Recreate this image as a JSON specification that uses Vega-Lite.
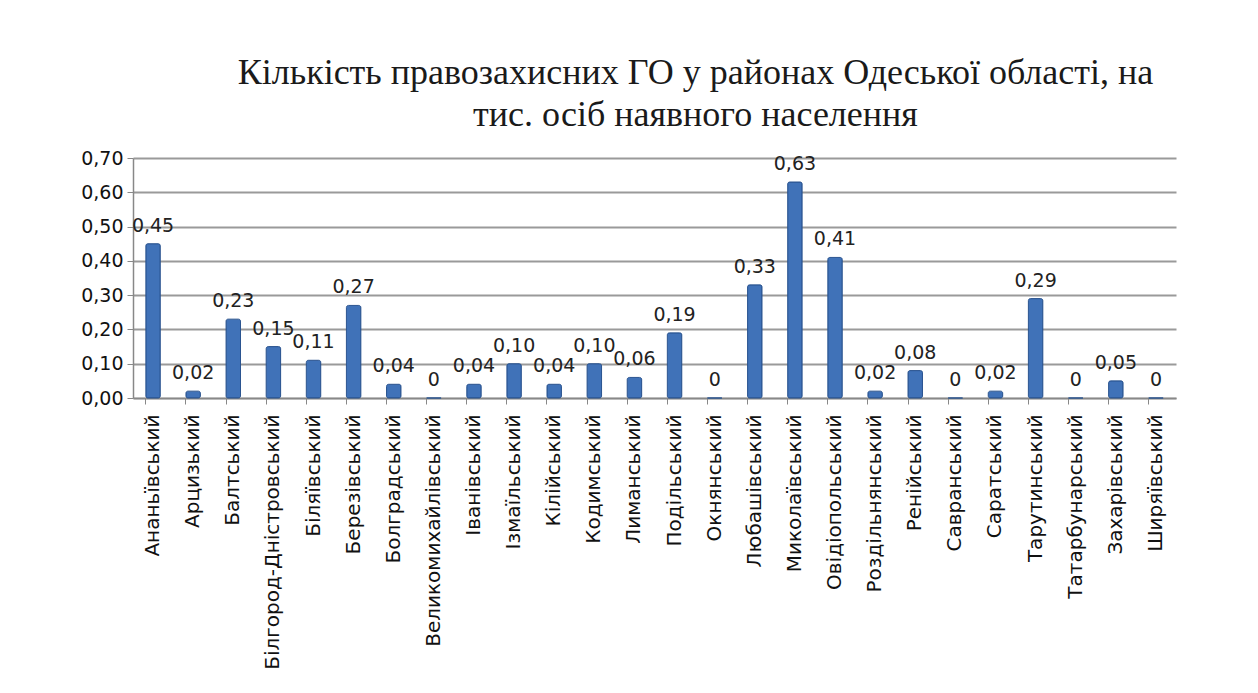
{
  "$schema": "https://vega.github.io/schema/vega-lite/v6.json",
  "width": 1043,
  "height": 240,
  "padding": {"left": 80, "top": 55, "right": 20, "bottom": 5},
  "background": "white",
  "title": {
    "text": ["Кількість правозахисних ГО у районах Одеської області, на", "тис. осіб наявного населення"],
    "font": "Liberation Serif",
    "fontSize": 36,
    "fontWeight": "normal",
    "color": "#1a1a1a",
    "lineHeight": 42,
    "anchor": "middle",
    "dx": 41,
    "offset": 15
  },
  "data": {
    "values": [
      {"district": "Ананьївський", "v": 0.45},
      {"district": "Арцизький", "v": 0.02},
      {"district": "Балтський", "v": 0.23},
      {"district": "Білгород-Дністровський", "v": 0.15},
      {"district": "Біляївський", "v": 0.11},
      {"district": "Березівський", "v": 0.27},
      {"district": "Болградський", "v": 0.04},
      {"district": "Великомихайлівський", "v": 0},
      {"district": "Іванівський", "v": 0.04},
      {"district": "Ізмаїльський", "v": 0.10},
      {"district": "Кілійський", "v": 0.04},
      {"district": "Кодимський", "v": 0.10},
      {"district": "Лиманський", "v": 0.06},
      {"district": "Подільський", "v": 0.19},
      {"district": "Окнянський", "v": 0},
      {"district": "Любашівський", "v": 0.33},
      {"district": "Миколаївський", "v": 0.63},
      {"district": "Овідіопольський", "v": 0.41},
      {"district": "Роздільнянський", "v": 0.02},
      {"district": "Ренійський", "v": 0.08},
      {"district": "Савранський", "v": 0},
      {"district": "Саратський", "v": 0.02},
      {"district": "Тарутинський", "v": 0.29},
      {"district": "Татарбунарський", "v": 0},
      {"district": "Захарівський", "v": 0.05},
      {"district": "Ширяївський", "v": 0}
    ]
  },
  "transform": [
    {"calculate": "datum.v == 0 ? '0' : replace(format(datum.v, '.2f'), '.', ',')", "as": "label"}
  ],
  "encoding": {
    "x": {
      "field": "district",
      "type": "nominal",
      "sort": null,
      "scale": {"paddingInner": 0.64, "paddingOuter": 0.32},
      "axis": {
        "title": null,
        "labelAngle": -90,
        "labelFont": "DejaVu Sans",
        "labelFontSize": 20,
        "labelColor": "#111",
        "labelPadding": 10,
        "labelLimit": 0,
        "labelOverlap": false,
        "bandPosition": 0,
        "tickColor": "#888",
        "tickSize": 6,
        "domainColor": "#888",
        "domainWidth": 1.5,
        "grid": false
      }
    },
    "y": {
      "field": "v",
      "type": "quantitative",
      "scale": {"domain": [0, 0.7]},
      "axis": {
        "title": null,
        "values": [0, 0.1, 0.2, 0.3, 0.4, 0.5, 0.6, 0.7],
        "labelExpr": "replace(format(datum.value, '.2f'), '.', ',')",
        "labelOverlap": false,
        "labelFont": "DejaVu Sans",
        "labelFontSize": 19,
        "labelColor": "#111",
        "labelPadding": 4,
        "tickColor": "#888",
        "tickSize": 6,
        "domainColor": "#888",
        "domainWidth": 1.5,
        "gridColor": "#9a9a9a",
        "gridWidth": 2
      }
    }
  },
  "layer": [
    {
      "mark": {"type": "bar", "color": "#4072B8", "stroke": "#2A5490", "strokeWidth": 1, "cornerRadius": 2}
    },
    {
      "mark": {"type": "text", "baseline": "bottom", "dy": -8, "font": "DejaVu Sans", "fontSize": 19, "color": "#222"},
      "encoding": {
        "text": {"field": "label"}
      }
    }
  ],
  "config": {"view": {"stroke": null}}
}
